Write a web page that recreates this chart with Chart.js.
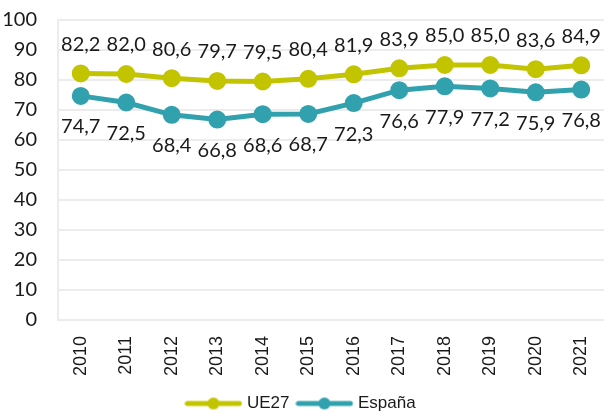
<!DOCTYPE html>
<html>
<head>
<meta charset="utf-8">
<script src="https://cdn.jsdelivr.net/npm/chart.js@4.4.8/dist/chart.umd.min.js"></script>
<style>
  html, body { margin: 0; padding: 0; background: #fff; }
  #wrap { width: 604px; height: 412px; }
</style>
</head>
<body>
<div id="wrap"><canvas id="chart" width="604" height="412"></canvas></div>
<script>
const years = ["2010", "2011", "2012", "2013", "2014", "2015", "2016", "2017", "2018", "2019", "2020", "2021"];
const ue27 = [82.2, 82.0, 80.6, 79.7, 79.5, 80.4, 81.9, 83.9, 85.0, 85.0, 83.6, 84.9];
const espana = [74.7, 72.5, 68.4, 66.8, 68.6, 68.7, 72.3, 76.6, 77.9, 77.2, 75.9, 76.8];
const yTicks = [0, 10, 20, 30, 40, 50, 60, 70, 80, 90, 100];

const colorUE = "#c3c400";
const colorES = "#31a1ae";

function legendSymbol(color) {
  const c = document.createElement("canvas");
  c.width = 58;
  c.height = 14;
  const ctx = c.getContext("2d");
  ctx.strokeStyle = color;
  ctx.lineWidth = 5;
  ctx.lineCap = "round";
  ctx.beginPath();
  ctx.moveTo(3, 7);
  ctx.lineTo(55, 7);
  ctx.stroke();
  ctx.fillStyle = color;
  ctx.beginPath();
  ctx.arc(29, 7, 6, 0, Math.PI * 2);
  ctx.fill();
  return c;
}

// etiquetas de valor: arriba para UE27, abajo para España
const valueLabels = {
  id: "valueLabels",
  afterDatasetsDraw(chart) {
    const ctx = chart.ctx;
    ctx.save();
    ctx.font = "20px Lato, 'Open Sans', sans-serif";
    ctx.fillStyle = "#1a1a1a";
    ctx.textAlign = "center";
    chart.data.datasets.forEach((ds, i) => {
      const meta = chart.getDatasetMeta(i);
      meta.data.forEach((pt, j) => {
        const txt = ds.data[j].toFixed(1).replace(".", ",");
        if (i === 0) {
          ctx.textBaseline = "bottom";
          ctx.fillText(txt, pt.x, pt.y - 19);
        } else {
          ctx.textBaseline = "top";
          ctx.fillText(txt, pt.x, pt.y + 21);
        }
      });
    });
    ctx.restore();
  }
};

new Chart(document.getElementById("chart"), {
  type: "line",
  data: {
    labels: years,
    datasets: [
      {
        label: "UE27",
        data: ue27,
        borderColor: colorUE,
        backgroundColor: colorUE,
        borderWidth: 5,
        pointRadius: 6.5,
        pointHoverRadius: 6.5,
        tension: 0
      },
      {
        label: "España",
        data: espana,
        borderColor: colorES,
        backgroundColor: colorES,
        borderWidth: 5,
        pointRadius: 6.5,
        pointHoverRadius: 6.5,
        tension: 0
      }
    ]
  },
  options: {
    responsive: false,
    animation: false,
    layout: { autoPadding: false, padding: { top: 20, right: 0, left: 0, bottom: -10 } },
    scales: {
      x: {
        offset: true,
        grid: { display: false, drawTicks: false },
        border: { color: "#ececec", width: 2 },
        ticks: {
          color: "#1a1a1a",
          font: { family: "'Liberation Sans', Arial, sans-serif", size: 18 },
          minRotation: 90,
          maxRotation: 90,
          padding: 16
        },
        afterFit(axis) {
          axis.height = 65;
          axis.paddingLeft = 0;
          axis.paddingRight = 0;
        }
      },
      y: {
        min: 0,
        max: 100,
        afterBuildTicks(axis) {
          axis.ticks = yTicks.map(v => ({ value: v }));
        },
        grid: { color: "#ececec", lineWidth: 2, drawTicks: false },
        border: { color: "#ececec", width: 2 },
        ticks: {
          color: "#1a1a1a",
          font: { family: "Lato, 'Open Sans', sans-serif", size: 20 },
          padding: 21
        },
        afterFit(axis) {
          axis.width = 58;
          axis.paddingTop = 8;
          axis.paddingBottom = 0;
        }
      }
    },
    plugins: {
      tooltip: { enabled: false },
      legend: {
        position: "bottom",
        labels: {
          color: "#1a1a1a",
          font: { family: "'Liberation Sans', Arial, sans-serif", size: 17 },
          usePointStyle: true,
          pointStyleWidth: 50,
          boxHeight: 14,
          padding: 10,
          generateLabels(chart) {
            return chart.data.datasets.map((ds, i) => ({
              text: ds.label,
              fillStyle: ds.borderColor,
              strokeStyle: ds.borderColor,
              lineWidth: 0,
              pointStyle: legendSymbol(ds.borderColor),
              datasetIndex: i,
              hidden: false,
              fontColor: "#1a1a1a"
            }));
          }
        }
      }
    }
  },
  plugins: [valueLabels]
});
</script>
</body>
</html>
